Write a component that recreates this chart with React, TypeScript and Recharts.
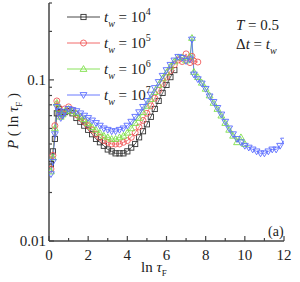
import React from 'react';
import { LineChart, Line, XAxis, YAxis } from 'recharts';

// ln(tau_F) grid shared by every series (series are cut at their own length)
const lnTau = [
  0.1, 0.2, 0.3, 0.4, 0.5, 0.6, 0.7, 0.8, 1.0, 1.2, 1.4, 1.6, 1.8, 2.0, 2.2, 2.4,
  2.6, 2.8, 3.0, 3.2, 3.4, 3.6, 3.8, 4.0, 4.2, 4.4, 4.6, 4.8, 5.0, 5.2, 5.4, 5.6,
  5.8, 6.0, 6.2, 6.4, 6.6, 6.8, 7.0, 7.2, 7.3, 7.4, 7.6, 7.8, 8.0, 8.2, 8.4, 8.6,
  8.8, 9.0, 9.2, 9.4, 9.6, 9.8, 10.0, 10.2, 10.4, 10.6, 10.8, 11.0, 11.2, 11.4,
  11.6, 11.8, 12.0,
];

const pTw4 = [
  0.030, 0.036, 0.043, 0.062, 0.066, 0.063, 0.062, 0.063, 0.064, 0.062, 0.058, 0.055,
  0.052, 0.049, 0.046, 0.043, 0.041, 0.039, 0.037, 0.036, 0.035, 0.035, 0.035, 0.036,
  0.038, 0.040, 0.044, 0.048, 0.053, 0.059, 0.066, 0.074, 0.083, 0.093, 0.104, 0.115,
];

const pTw5 = [
  0.028, 0.034, 0.052, 0.074, 0.067, 0.060, 0.062, 0.066, 0.068, 0.065, 0.061, 0.058,
  0.055, 0.052, 0.049, 0.046, 0.044, 0.042, 0.041, 0.040, 0.040, 0.040, 0.041, 0.042,
  0.044, 0.047, 0.051, 0.056, 0.062, 0.069, 0.077, 0.086, 0.095, 0.104, 0.114, 0.124,
  0.133, 0.130, 0.145, 0.128, 0.140, 0.131, 0.129,
];

const pTw6 = [
  0.027, 0.033, 0.050, 0.072, 0.066, 0.059, 0.061, 0.064, 0.066, 0.064, 0.062, 0.059,
  0.057, 0.054, 0.051, 0.049, 0.047, 0.045, 0.044, 0.043, 0.043, 0.044, 0.045, 0.047,
  0.050, 0.054, 0.058, 0.063, 0.069, 0.076, 0.084, 0.093, 0.102, 0.111, 0.121, 0.130,
  0.138, 0.138, 0.132, 0.140, 0.182, 0.112, 0.104, 0.096, 0.088, 0.080, 0.072, 0.066,
  0.060, 0.054, 0.049, 0.045, 0.041, 0.044, 0.040,
];

const pTw7 = [
  0.026, 0.031, 0.046, 0.068, 0.064, 0.058, 0.060, 0.063, 0.066, 0.065, 0.064, 0.062,
  0.060, 0.058, 0.056, 0.054, 0.052, 0.050, 0.049, 0.048, 0.048, 0.049, 0.050, 0.052,
  0.055, 0.059, 0.063, 0.068, 0.074, 0.081, 0.089, 0.097, 0.106, 0.115, 0.124, 0.132,
  0.139, 0.137, 0.131, 0.134, 0.178, 0.108, 0.101, 0.095, 0.088, 0.079, 0.073, 0.067,
  0.061, 0.055, 0.050, 0.046, 0.043, 0.041, 0.039, 0.038, 0.037, 0.036, 0.035, 0.035,
  0.036, 0.037, 0.037, 0.039, 0.042,
];

const twExponents = ['4', '5', '6', '7'];
const seriesColors = ['#333333', '#f05a5a', '#7ee04a', '#5a6cff'];
const seriesShapes = ['square', 'circle', 'up', 'down'];
const seriesValues = [pTw4, pTw5, pTw6, pTw7];

const xTicks = [0, 1, 2, 3, 4, 5, 6, 7, 8, 9, 10, 11, 12];
const yTicks = [0.01, 0.02, 0.03, 0.04, 0.05, 0.06, 0.07, 0.08, 0.09, 0.1, 0.2, 0.3];
const yLabelled = [0.01, 0.1];

const FONT = '"Liberation Serif", "DejaVu Serif", serif';
const AXIS = '#444';

function marker(shape: string, color: string, cx: number, cy: number, key?: any) {
  const common = { fill: 'none', stroke: color, strokeWidth: 0.9 };
  if (shape === 'square') return <rect key={key} x={cx - 2.6} y={cy - 2.6} width={5.2} height={5.2} {...common} />;
  if (shape === 'circle') return <circle key={key} cx={cx} cy={cy} r={3} {...common} />;
  if (shape === 'up')
    return <polygon key={key} points={`${cx},${cy - 3.4} ${cx + 3.4},${cy + 2.4} ${cx - 3.4},${cy + 2.4}`} {...common} />;
  return <polygon key={key} points={`${cx},${cy + 3.4} ${cx + 3.4},${cy - 2.4} ${cx - 3.4},${cy - 2.4}`} {...common} />;
}

const series = seriesValues.map((vals, i) => ({
  name: `tw1e${twExponents[i]}`,
  color: seriesColors[i],
  shape: seriesShapes[i],
  data: vals.map((p, j) => ({ x: lnTau[j], p })),
}));

// ticks drawn inward, labels outside
const BottomTick = (props: any) => {
  const { x, y, payload } = props;
  const major = payload.value % 2 === 0;
  return (
    <g>
      <line x1={x} x2={x} y1={y} y2={y - (major ? 5 : 3)} stroke={AXIS} strokeWidth={1.2} />
      {major && (
        <text x={x} y={y + 19} textAnchor="middle" fontFamily={FONT} fontSize={15} fill="#222">
          {payload.value}
        </text>
      )}
    </g>
  );
};

const TopTick = (props: any) => {
  const { x, y, payload } = props;
  const major = payload.value % 2 === 0;
  return <line x1={x} x2={x} y1={y} y2={y + (major ? 5 : 3)} stroke={AXIS} strokeWidth={1.2} />;
};

const LeftTick = (props: any) => {
  const { x, y, payload } = props;
  const major = yLabelled.includes(payload.value);
  return (
    <g>
      <line x1={x} x2={x + (major ? 5 : 3)} y1={y} y2={y} stroke={AXIS} strokeWidth={1.2} />
      {major && (
        <text x={x - 3} y={y + 5} textAnchor="end" fontFamily={FONT} fontSize={15} fill="#222">
          {payload.value}
        </text>
      )}
    </g>
  );
};

const RightTick = (props: any) => {
  const { x, y, payload } = props;
  const major = yLabelled.includes(payload.value);
  return <line x1={x} x2={x - (major ? 5 : 3)} y1={y} y2={y} stroke={AXIS} strokeWidth={1.2} />;
};

export default function App() {
  return (
    <div style={{ position: 'absolute', left: 0, top: 0, width: 300, height: 282, background: '#fff' }}>
      <LineChart width={300} height={282} margin={{ top: 3, right: 16, bottom: 0, left: 0 }}>
        <XAxis
          xAxisId="b"
          dataKey="x"
          type="number"
          domain={[0, 12]}
          ticks={xTicks}
          interval={0}
          height={41}
          tickSize={0}
          tickMargin={0}
          tick={<BottomTick />}
          axisLine={{ stroke: AXIS, strokeWidth: 1.5 }}
          allowDataOverflow
        />
        <XAxis
          xAxisId="t"
          orientation="top"
          dataKey="x"
          type="number"
          domain={[0, 12]}
          ticks={xTicks}
          interval={0}
          height={0}
          tickSize={0}
          tickMargin={0}
          tick={<TopTick />}
          axisLine={{ stroke: AXIS, strokeWidth: 1.5 }}
          allowDataOverflow
        />
        <YAxis
          yAxisId="l"
          type="number"
          scale="log"
          domain={[0.01, 0.3]}
          ticks={yTicks}
          interval={0}
          width={49}
          tickSize={0}
          tickMargin={0}
          tick={<LeftTick />}
          axisLine={{ stroke: AXIS, strokeWidth: 1.5 }}
          allowDataOverflow
        />
        <YAxis
          yAxisId="r"
          orientation="right"
          type="number"
          scale="log"
          domain={[0.01, 0.3]}
          ticks={yTicks}
          interval={0}
          width={0}
          tickSize={0}
          tickMargin={0}
          tick={<RightTick />}
          axisLine={{ stroke: AXIS, strokeWidth: 1.5 }}
          allowDataOverflow
        />
        {series.map((s) => (
          <Line
            key={s.name}
            xAxisId="b"
            yAxisId="l"
            data={s.data}
            dataKey="p"
            type="linear"
            stroke={s.color}
            strokeWidth={0.8}
            dot={(p: any) => marker(s.shape, s.color, p.cx, p.cy, p.index)}
            activeDot={false}
            isAnimationActive={false}
          />
        ))}
      </LineChart>
      <svg
        width={300}
        height={282}
        style={{ position: 'absolute', left: 0, top: 0, pointerEvents: 'none' }}
        fontFamily={FONT}
      >
        {series.map((s, i) => {
          const y = 17 + i * 26;
          return (
            <g key={s.name}>
              <line x1={67} x2={100} y1={y} y2={y} stroke={s.color} strokeWidth={0.9} />
              {marker(s.shape, s.color, 83.5, y)}
              <text x={104} y={y + 5} fontSize={15} fill="#222">
                <tspan fontStyle="italic">t</tspan>
                <tspan fontStyle="italic" fontSize={10} dy={5}>w</tspan>
                <tspan dy={-5}> = 10</tspan>
                <tspan fontSize={10} dy={-7}>{twExponents[i]}</tspan>
              </text>
            </g>
          );
        })}
        <text x={236} y={30} fontSize={15} fill="#222">
          <tspan fontStyle="italic">T</tspan> = 0.5
        </text>
        <text x={236} y={49} fontSize={15} fill="#222">
          Δ<tspan fontStyle="italic">t</tspan> = <tspan fontStyle="italic">t</tspan>
          <tspan fontStyle="italic" fontSize={10} dy={5}>w</tspan>
        </text>
        <text x={268} y={236} fontSize={14} fill="#222">(a)</text>
        <text x={141} y={272} fontSize={15} fill="#222">
          ln <tspan fontStyle="italic">τ</tspan>
          <tspan fontSize={9} dy={4}>F</tspan>
        </text>
        <text transform="translate(18,121) rotate(-90)" textAnchor="middle" fontSize={15} fill="#222">
          <tspan fontStyle="italic">P</tspan> ( ln <tspan fontStyle="italic">τ</tspan>
          <tspan fontSize={9} dy={4}>F</tspan>
          <tspan dy={-4}> )</tspan>
        </text>
      </svg>
    </div>
  );
}
